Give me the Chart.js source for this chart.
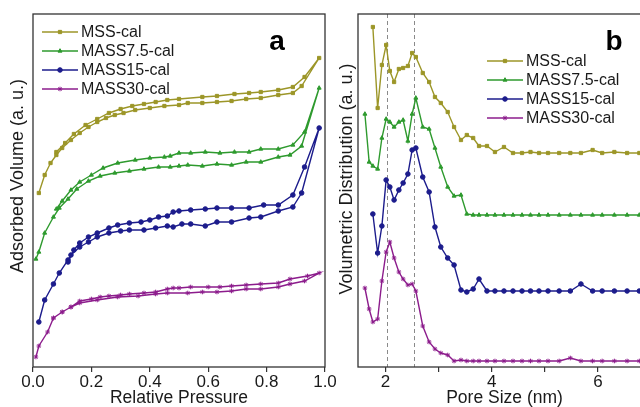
<!DOCTYPE html>
<html>
<head>
<meta charset="utf-8">
<script src="https://cdn.jsdelivr.net/npm/chart.js"></script>
<style>
  html, body { margin: 0; padding: 0; background: #fff; overflow: hidden; }
  body { width: 640px; height: 407px; position: relative; }
  #isotherm-canvas { position: absolute; left: 0; top: 0; }
  #pore-canvas { position: absolute; left: 330px; top: 0; }
</style>
</head>
<body>
<canvas id="isotherm-canvas" width="340" height="407"></canvas>
<canvas id="pore-canvas" width="340" height="407"></canvas>
<script>
const sampleNames = ['MSS-cal', 'MASS7.5-cal', 'MASS15-cal', 'MASS30-cal'];
const sampleColors = ['#9c9628', '#2e9a2e', '#1c1c8c', '#8c1c8c'];
const sampleMarkers = ['rect', 'triangle', 'circle', 'star'];

// (a) isotherms, adsorption branch then desorption branch back down
const mssPressure = [0.02, 0.04, 0.06, 0.08, 0.10, 0.13, 0.16, 0.19, 0.22, 0.25, 0.28, 0.31, 0.35, 0.40, 0.45, 0.50, 0.53, 0.58, 0.63, 0.68, 0.73, 0.78, 0.84, 0.89, 0.92, 0.98,
  0.93, 0.89, 0.84, 0.78, 0.74, 0.69, 0.63, 0.58, 0.50, 0.46, 0.42, 0.38, 0.34, 0.30, 0.26, 0.22, 0.18, 0.14, 0.11, 0.08];
const mssVolume = [174, 192, 204, 212, 219, 227, 234, 240, 245, 249, 252, 254, 257, 259, 261, 262, 264, 264, 265, 266, 268, 269, 272, 274, 281, 309,
  290, 280, 277, 275, 274, 273, 271, 270, 268, 267, 265, 263, 261, 258, 254, 248, 242, 233, 224, 215];

const mass75Pressure = [0.01, 0.02, 0.04, 0.07, 0.09, 0.12, 0.15, 0.19, 0.23, 0.28, 0.33, 0.38, 0.43, 0.47, 0.50, 0.53, 0.58, 0.63, 0.68, 0.73, 0.78, 0.84, 0.88, 0.92, 0.98,
  0.93, 0.89, 0.84, 0.78, 0.74, 0.69, 0.64, 0.59, 0.54, 0.50, 0.47, 0.45, 0.40, 0.35, 0.29, 0.24, 0.20, 0.16, 0.13, 0.10, 0.08];
const mass75Volume = [108, 115, 134, 150, 159, 168, 178, 186, 191, 194, 196, 198, 200, 200, 201, 202, 201, 203, 202, 205, 205, 210, 212, 221, 279,
  235, 222, 218, 218, 215, 215, 214, 215, 214, 214, 211, 210, 209, 207, 204, 199, 192, 185, 177, 166, 158];

const mass15Pressure = [0.02, 0.04, 0.07, 0.09, 0.12, 0.13, 0.16, 0.19, 0.22, 0.26, 0.30, 0.33, 0.38, 0.42, 0.46, 0.48, 0.51, 0.54, 0.59, 0.63, 0.68, 0.74, 0.78, 0.84, 0.89, 0.92, 0.98,
  0.93, 0.89, 0.84, 0.79, 0.74, 0.68, 0.63, 0.59, 0.54, 0.50, 0.48, 0.46, 0.43, 0.40, 0.37, 0.33, 0.29, 0.26, 0.22, 0.19, 0.16, 0.14, 0.12];
const mass15Volume = [45, 67, 83, 94, 107, 112, 120, 125, 130, 134, 136, 137, 137, 139, 141, 140, 143, 143, 141, 145, 145, 149, 150, 156, 160, 174, 239,
  200, 172, 162, 162, 159, 159, 159, 158, 157, 156, 155, 151, 150, 147, 145, 144, 142, 139, 134, 130, 124, 117, 105];

const mass30Pressure = [0.01, 0.02, 0.05, 0.07, 0.10, 0.13, 0.16, 0.22, 0.29, 0.36, 0.42, 0.46, 0.53, 0.58, 0.63, 0.68, 0.73, 0.78, 0.84, 0.88, 0.93, 0.98,
  0.94, 0.88, 0.84, 0.78, 0.73, 0.68, 0.64, 0.60, 0.54, 0.50, 0.48, 0.46, 0.42, 0.38, 0.33, 0.30, 0.26, 0.23, 0.20, 0.16, 0.13, 0.10, 0.07];
const mass30Volume = [10, 21, 35, 49, 55, 60, 64, 67, 70, 71, 73, 74, 74, 75, 75, 76, 78, 78, 80, 83, 86, 94,
  91, 88, 84, 83, 82, 81, 80, 80, 80, 79, 79, 78, 75, 74, 73, 72, 71, 70, 68, 66, 60, 55, 49];

const pressureTicks = [0, 0.2, 0.4, 0.6, 0.8, 1.0];
const pressureLabels = ['0.0', '0.2', '0.4', '0.6', '0.8', '1.0'];

// (b) pore size distribution, null where a sample has no point
const poreSizes = [1.61, 1.69, 1.76, 1.85, 1.93, 2.01, 2.08, 2.16, 2.25, 2.33, 2.42, 2.50, 2.57, 2.70, 2.82, 2.93, 3.04, 3.17, 3.29, 3.42,
  3.53, 3.65, 3.76, 3.91, 4.06, 4.23, 4.40, 4.57, 4.73, 4.89, 5.06, 5.27, 5.48, 5.68, 5.90, 6.08, 6.31, 6.55, 6.78, 7.02];
const mssDist = [null, null, 340, 259, 302, 322, 296, 285, 298, 299, 301, 314, 310, 294, 285, 270, 264, 255, 240, 227,
  232, 229, 221, 221, 215, 220, 214, 214, 215, 214, 214, 214, 214, 214, 217, 214, 215, 214, 214, 214];
const mass75Dist = [253, 205, 201, 198, 229, 248, 245, 240, 245, 247, 226, 253, 269, 240, 238, 219, 200, 180, 171, 172,
  153, 152, 152, 152, 152, 152, 152, 152, 152, 152, 152, 152, 152, 152, 152, 152, 152, 152, 152, 152];
const mass15Dist = [null, null, 153, 114, 141, 187, 180, 167, 177, 184, 193, 217, 219, 190, 175, 140, 120, 109, 102, 77,
  75, 78, 88, 76, 76, 76, 76, 76, 76, 76, 76, 76, 76, 83, 76, 76, 76, 76, 76, 76];
const mass30Dist = [79, 58, 45, 48, 86, 115, 125, 109, 95, 88, 82, 83, 76, 41, 25, 18, 14, 12, 6, 7,
  6, 6, 6, 6, 6, 6, 6, 6, 6, 6, 6, 6, 9, 6, 6, 6, 6, 6, 6, 6];

const poreTicks = [2, 3, 4, 5, 6, 7];
const poreLabels = ['2', '', '4', '', '6', ''];
const guidePores = [2.02, 2.53];

const FONT = "'Liberation Sans', Arial, sans-serif";
const INK = '#1a1a1a';

function seriesStyle(i) {
  return {
    label: sampleNames[i],
    borderColor: sampleColors[i],
    backgroundColor: sampleColors[i],
    pointStyle: sampleMarkers[i],
    pointRadius: 2.3,
    pointBorderWidth: 1,
    borderWidth: 1.4,
    tension: 0,
    fill: false
  };
}

function toPoints(xs, ys) {
  return xs.map((x, k) => ({ x: x, y: ys[k] })).filter(p => p.y !== null);
}

// frame, guides, y title, legend and panel letter
function panelDecor(cfg) {
  return {
    id: 'panelDecor',
    beforeDatasetsDraw(chart) {
      if (!cfg.guides) return;
      const { ctx, chartArea } = chart;
      ctx.save();
      ctx.strokeStyle = '#8a8a8a';
      ctx.lineWidth = 1;
      ctx.setLineDash([4, 3]);
      cfg.guides.forEach(v => {
        const x = Math.round(chart.scales.x.getPixelForValue(v)) + 0.5;
        ctx.beginPath();
        ctx.moveTo(x, chartArea.top);
        ctx.lineTo(x, chartArea.bottom);
        ctx.stroke();
      });
      ctx.restore();
    },
    afterDatasetsDraw(chart) {
      const { ctx, chartArea } = chart;
      ctx.save();
      ctx.strokeStyle = '#333';
      ctx.lineWidth = 1.3;
      ctx.strokeRect(chartArea.left, chartArea.top, chartArea.right - chartArea.left, chartArea.bottom - chartArea.top);

      // y axis title
      ctx.save();
      ctx.translate(cfg.yTitleX, cfg.yTitleY);
      ctx.rotate(-Math.PI / 2);
      ctx.font = '18px ' + FONT;
      ctx.fillStyle = INK;
      ctx.textAlign = 'center';
      ctx.textBaseline = 'middle';
      ctx.fillText(cfg.yTitle, 0, 0);
      ctx.restore();

      // legend
      ctx.font = '16px ' + FONT;
      ctx.textBaseline = 'middle';
      ctx.textAlign = 'left';
      chart.data.datasets.forEach((ds, i) => {
        const y = cfg.legendY + i * 19;
        ctx.strokeStyle = ds.borderColor;
        ctx.fillStyle = ds.borderColor;
        ctx.lineWidth = 1.6;
        ctx.beginPath();
        ctx.moveTo(cfg.legendX, y);
        ctx.lineTo(cfg.legendX + 36, y);
        ctx.stroke();
        ctx.lineWidth = 1;
        Chart.helpers.drawPoint(ctx, { pointStyle: ds.pointStyle, radius: 2.3, rotation: 0, borderWidth: 1 }, cfg.legendX + 18, y);
        ctx.fillStyle = INK;
        ctx.fillText(ds.label, cfg.legendX + 39, y + 1);
      });

      // panel letter
      ctx.font = 'bold 28px ' + FONT;
      ctx.fillStyle = '#000';
      ctx.textAlign = 'center';
      ctx.fillText(cfg.letter, cfg.letterX, cfg.letterY);
      ctx.restore();
    }
  };
}

function xAxis(min, max, ticks, labels, title) {
  return {
    type: 'linear',
    min: min,
    max: max,
    afterBuildTicks: s => { s.ticks = ticks.map(v => ({ value: v })); },
    ticks: {
      callback: (v, i) => labels[i],
      font: { family: FONT, size: 17 },
      color: INK,
      padding: 0,
      maxRotation: 0,
      autoSkip: false
    },
    grid: { drawOnChartArea: false, drawTicks: true, tickLength: 5, color: '#333', lineWidth: 1.2 },
    border: { display: false },
    title: { display: true, text: title, color: INK, font: { family: FONT, size: 17.5, lineHeight: 1 }, padding: { top: 0, bottom: 0 } },
    afterFit: s => { s.height = 40; }
  };
}

function yAxis(width) {
  return {
    type: 'linear',
    min: 0,
    max: 353,
    ticks: { display: false },
    grid: { display: false },
    border: { display: false },
    afterFit: s => { s.width = width; }
  };
}

const baseOptions = {
  responsive: false,
  animation: false,
  plugins: { legend: { display: false }, tooltip: { enabled: false } }
};

const isoSeries = [
  [mssPressure, mssVolume],
  [mass75Pressure, mass75Volume],
  [mass15Pressure, mass15Volume],
  [mass30Pressure, mass30Volume]
];

new Chart(document.getElementById('isotherm-canvas'), {
  type: 'line',
  data: {
    datasets: isoSeries.map((s, i) => Object.assign(seriesStyle(i), { data: toPoints(s[0], s[1]) }))
  },
  options: Object.assign({}, baseOptions, {
    layout: { padding: { top: 14, right: 15, left: 0, bottom: 0 } },
    scales: {
      x: xAxis(0, 1, pressureTicks, pressureLabels, 'Relative Pressure'),
      y: yAxis(33)
    }
  }),
  plugins: [panelDecor({
    yTitle: 'Adsorbed Volume (a. u.)', yTitleX: 18, yTitleY: 176,
    legendX: 42, legendY: 32,
    letter: 'a', letterX: 277, letterY: 42
  })]
});

const distSeries = [mssDist, mass75Dist, mass15Dist, mass30Dist];

new Chart(document.getElementById('pore-canvas'), {
  type: 'line',
  data: {
    datasets: distSeries.map((d, i) => Object.assign(seriesStyle(i), { data: toPoints(poreSizes, d) }))
  },
  options: Object.assign({}, baseOptions, {
    layout: { padding: { top: 14, right: 19, left: 0, bottom: 0 } },
    scales: {
      x: xAxis(1.48, 7.0, poreTicks, poreLabels, 'Pore Size (nm)'),
      y: yAxis(28)
    }
  }),
  plugins: [panelDecor({
    yTitle: 'Volumetric Distribution (a. u.)', yTitleX: 17, yTitleY: 179,
    legendX: 157, legendY: 61, guides: guidePores,
    letter: 'b', letterX: 284, letterY: 42
  })]
});
</script>
</body>
</html>
